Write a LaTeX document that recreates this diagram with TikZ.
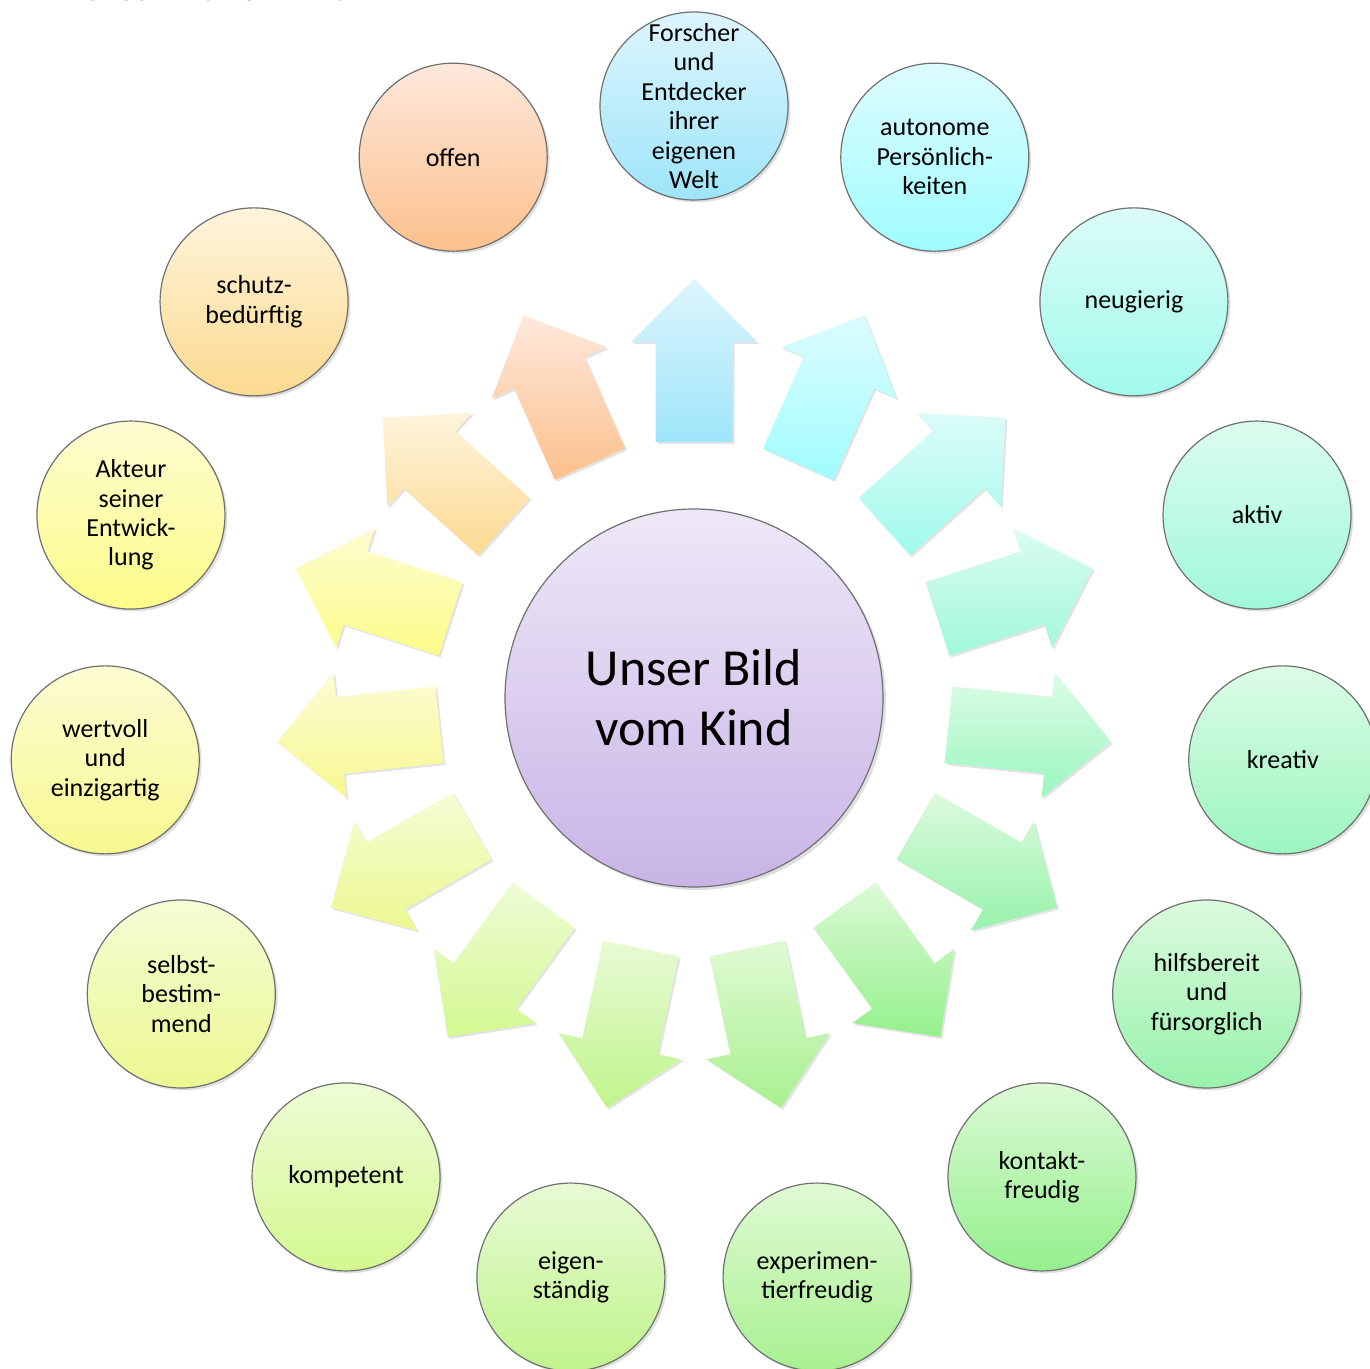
\documentclass[tikz,border=0pt]{standalone}
\usepackage{fontspec}
\setmainfont{Carlito}
\usetikzlibrary{calc,shadows}

\definecolor{t0}{HTML}{DDF5FD}\definecolor{b0}{HTML}{9EE5FA}
\definecolor{t1}{HTML}{DDFCFF}\definecolor{b1}{HTML}{A0FCFF}
\definecolor{t2}{HTML}{DCFCF8}\definecolor{b2}{HTML}{A0FAEC}
\definecolor{t3}{HTML}{DCFCEE}\definecolor{b3}{HTML}{A0F8DA}
\definecolor{t4}{HTML}{DCFCE6}\definecolor{b4}{HTML}{9CF6C0}
\definecolor{t5}{HTML}{DCFADE}\definecolor{b5}{HTML}{98F2AC}
\definecolor{t6}{HTML}{DCFAD6}\definecolor{b6}{HTML}{94F08C}
\definecolor{t7}{HTML}{E0FAD4}\definecolor{b7}{HTML}{A8F090}
\definecolor{t8}{HTML}{E8FAD4}\definecolor{b8}{HTML}{C0F48C}
\definecolor{t9}{HTML}{EEFCD6}\definecolor{b9}{HTML}{D4F890}
\definecolor{t10}{HTML}{F6FCD6}\definecolor{b10}{HTML}{ECF890}
\definecolor{t11}{HTML}{FCFCD4}\definecolor{b11}{HTML}{F8F890}
\definecolor{t12}{HTML}{FEFCD2}\definecolor{b12}{HTML}{FCFC88}
\definecolor{t13}{HTML}{FEF4DC}\definecolor{b13}{HTML}{FCDA90}
\definecolor{t14}{HTML}{FEE8DC}\definecolor{b14}{HTML}{FCC08C}
\definecolor{midtop}{HTML}{EEE8F8}\definecolor{midbot}{HTML}{C8B4E6}
\definecolor{rim}{HTML}{707070}

% block arrow: angle, top colour, bottom colour
\newcommand{\kidarrow}[3]{%
  \path[top color=#2,bottom color=#3,
    drop shadow={opacity=.22,shadow xshift=1pt,shadow yshift=-1pt}]
    ($(#1:256)+(#1-90:38.5)$) -- ($(#1:356)+(#1-90:38.5)$)
    -- ($(#1:356)+(#1-90:63)$) -- (#1:419) -- ($(#1:356)+(#1+90:63)$)
    -- ($(#1:356)+(#1+90:38.5)$) -- ($(#1:256)+(#1+90:38.5)$) -- cycle;}

\begin{document}
\begin{tikzpicture}[x=.5pt,y=.5pt,
  trait/.style={circle,draw=rim,line width=.6pt,minimum size=94pt,inner sep=0pt,
    align=center,font=\fontsize{13}{14.7}\selectfont,
    drop shadow={opacity=.25,shadow xshift=1.2pt,shadow yshift=-1.2pt}}]
  \useasboundingbox (-694,-671) rectangle (676,698);
  \clip (-694,-671) rectangle (676,698);

  \node[anchor=base west,inner sep=0pt,font=\bfseries\fontsize{16}{19}\selectfont]
    (title) at (-612,697) {Unser Bild vom Kind};

  \node[circle,draw=rim,line width=.6pt,minimum size=189pt,inner sep=0pt,
    top color=midtop,bottom color=midbot,align=center,
    font=\fontsize{26}{30}\selectfont,
    drop shadow={opacity=.25,shadow xshift=1.5pt,shadow yshift=-1.5pt}]
    (kind) at (0,0) {Unser Bild\\vom Kind};

  \kidarrow{90}{t0}{b0}
  \kidarrow{66}{t1}{b1}
  \kidarrow{42}{t2}{b2}
  \kidarrow{18}{t3}{b3}
  \kidarrow{-6}{t4}{b4}
  \kidarrow{-30}{t5}{b5}
  \kidarrow{-54}{t6}{b6}
  \kidarrow{-78}{t7}{b7}
  \kidarrow{-102}{t8}{b8}
  \kidarrow{-126}{t9}{b9}
  \kidarrow{-150}{t10}{b10}
  \kidarrow{-174}{t11}{b11}
  \kidarrow{-198}{t12}{b12}
  \kidarrow{-222}{t13}{b13}
  \kidarrow{-246}{t14}{b14}

  \node[trait,inner sep=-8pt,top color=t0,bottom color=b0] (k0) at (90:592)
    {Forscher\\und\\Entdecker\\ihrer\\eigenen\\Welt};
  \node[trait,top color=t1,bottom color=b1] (k1) at (66:592)
    {autonome\\Persönlich-\\keiten};
  \node[trait,top color=t2,bottom color=b2] (k2) at (42:592) {neugierig};
  \node[trait,top color=t3,bottom color=b3] (k3) at (18:592) {aktiv};
  \node[trait,top color=t4,bottom color=b4] (k4) at (-6:592) {kreativ};
  \node[trait,top color=t5,bottom color=b5] (k5) at (-30:592)
    {hilfsbereit\\und\\fürsorglich};
  \node[trait,top color=t6,bottom color=b6] (k6) at (-54:592)
    {kontakt-\\freudig};
  \node[trait,top color=t7,bottom color=b7] (k7) at (-78:592)
    {experimen-\\tierfreudig};
  \node[trait,top color=t8,bottom color=b8] (k8) at (-102:592)
    {eigen-\\ständig};
  \node[trait,top color=t9,bottom color=b9] (k9) at (-126:592) {kompetent};
  \node[trait,top color=t10,bottom color=b10] (k10) at (-150:592)
    {selbst-\\bestim-\\mend};
  \node[trait,top color=t11,bottom color=b11] (k11) at (-174:592)
    {wertvoll\\und\\einzigartig};
  \node[trait,top color=t12,bottom color=b12] (k12) at (-198:592)
    {Akteur\\seiner\\Entwick-\\lung};
  \node[trait,top color=t13,bottom color=b13] (k13) at (-222:592)
    {schutz-\\bedürftig};
  \node[trait,top color=t14,bottom color=b14] (k14) at (-246:592) {offen};
\end{tikzpicture}
\end{document}
